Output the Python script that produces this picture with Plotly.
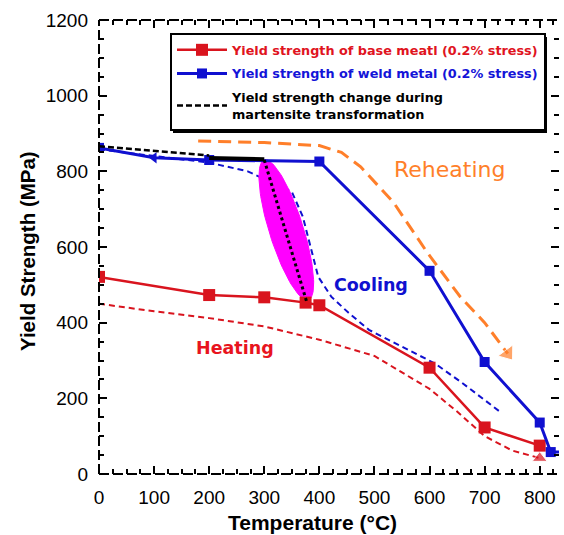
import numpy as np
import plotly.graph_objects as go

# Yield strength vs temperature
base_T = [0, 200, 300, 375, 400, 600, 700, 800]
base_YS = [521, 473, 467, 453, 446, 281, 123, 75]

weld_T = [0, 100, 200, 400, 600, 700, 800, 820, 850]
weld_YS = [862, 836, 830, 826, 537, 296, 136, 58, 58]
weld_sym = ["square", "triangle-left", "square", "square", "square",
            "square", "square", "square", "square"]

mart_T = [0, 200]
mart_YS = [866, 842]
mart_hold_T = [200, 300]
mart_hold_YS = [835, 832]
mart_drop_T = [300, 377]
mart_drop_YS = [830, 455]

heat_T = [0, 100, 200, 300, 400, 500, 600, 650, 700, 750, 800]
heat_YS = [450, 430, 412, 390, 355, 312, 225, 165, 100, 62, 42]

cool_T = [0, 200, 270, 350, 370, 385, 398, 422, 453, 490, 550, 610, 660, 731]
cool_YS = [858, 823, 800, 746, 680, 593, 521, 468, 426, 381, 336, 292, 240, 161]

reheat_T = [180, 300, 400, 440, 475, 535, 596, 656, 700, 742]
reheat_YS = [880, 876, 868, 850, 812, 717, 585, 468, 400, 318]

# transformation zone: ellipse along the martensite drop
zone_top = (300, 830)
zone_bottom = (380, 460)
zone_half_width_px = 17

X_RANGE = [0, 835]
Y_RANGE = [0, 1200]
W, H = 564, 535
M = dict(l=99, r=5, t=20, b=61)
plot_w = W - M["l"] - M["r"]
plot_h = H - M["t"] - M["b"]
sx = plot_w / (X_RANGE[1] - X_RANGE[0])
sy = plot_h / (Y_RANGE[1] - Y_RANGE[0])

RED = "#D9141E"
BLUE = "#1010D0"
ORANGE = "#FF7F2A"
MAGENTA = "#FF00FF"
WIDE = "DejaVu Sans"
SANS = "Liberation Sans"


def px_x(p):
    """Paper fraction for a pixel column inside the page."""
    return (p - M["l"]) / plot_w


def px_y(p):
    """Paper fraction for a pixel row inside the page."""
    return 1 - (p - M["t"]) / plot_h


# ellipse outline computed in pixel space, mapped back to data units
ax_px = np.array([zone_top[0] * sx, zone_top[1] * sy])
bx_px = np.array([zone_bottom[0] * sx, zone_bottom[1] * sy])
c = (ax_px + bx_px) / 2
u = (ax_px - bx_px) / 2
a = np.linalg.norm(u)
u = u / a
v = np.array([-u[1], u[0]])
t = np.linspace(0, 2 * np.pi, 120)
pts = c[:, None] + np.outer(u, a * np.cos(t)) + np.outer(v, zone_half_width_px * np.sin(t))
ell_x = pts[0] / sx
ell_y = pts[1] / sy

fig = go.Figure()

# dashed guide curves
fig.add_trace(go.Scatter(x=heat_T, y=heat_YS, mode="lines+markers",
                         line=dict(color=RED, width=2, dash="6px,4px"),
                         marker=dict(symbol="triangle-up", color=RED,
                                     size=[0] * (len(heat_T) - 1) + [13]),
                         showlegend=False, hoverinfo="skip"))
fig.add_trace(go.Scatter(x=cool_T, y=cool_YS, mode="lines",
                         line=dict(color=BLUE, width=2, dash="6px,4px"),
                         showlegend=False, hoverinfo="skip"))
fig.add_trace(go.Scatter(x=reheat_T, y=reheat_YS, mode="lines+markers",
                         line=dict(color=ORANGE, width=3, dash="13px,7px"),
                         marker=dict(symbol="triangle-up", angleref="previous",
                                     color=ORANGE,
                                     size=[0] * (len(reheat_T) - 1) + [16]),
                         showlegend=False, hoverinfo="skip"))

fig.add_trace(go.Scatter(x=ell_x, y=ell_y, mode="lines", fill="toself",
                         fillcolor=MAGENTA, line=dict(color=MAGENTA, width=1),
                         showlegend=False, hoverinfo="skip"))

# main series
fig.add_trace(go.Scatter(x=base_T, y=base_YS, mode="lines+markers",
                         legendgroup="base",
                         name="<b><span style='color:#E0141E'>Yield strength of base meatl (0.2% stress)</span></b>",
                         line=dict(color=RED, width=2.5),
                         marker=dict(symbol="square", size=12, color=RED)))
fig.add_trace(go.Scatter(x=weld_T, y=weld_YS, mode="lines+markers",
                         legendgroup="weld",
                         name="<b><span style='color:#1414D8'>Yield strength of weld metal (0.2% stress)</span></b>",
                         line=dict(color=BLUE, width=3),
                         marker=dict(symbol=weld_sym, size=10, color=BLUE)))
fig.add_trace(go.Scatter(x=mart_T, y=mart_YS, mode="lines",
                         legendgroup="mart",
                         name="<b>Yield strength change during<br>martensite transformation</b>",
                         line=dict(color="black", width=2.5, dash="6px,3px")))
fig.add_trace(go.Scatter(x=mart_hold_T, y=mart_hold_YS, mode="lines",
                         line=dict(color="black", width=4),
                         showlegend=False, hoverinfo="skip"))
fig.add_trace(go.Scatter(x=mart_drop_T, y=mart_drop_YS, mode="lines",
                         line=dict(color="black", width=3, dash="dot"),
                         showlegend=False, hoverinfo="skip"))

# frame drawn as dashed lines, right side carries ticks only
frame = dict(color="black", width=2, dash="10px,4px")
shapes = [
    dict(type="line", xref="paper", yref="paper", x0=0, x1=1, y0=1, y1=1, line=frame),
    dict(type="line", xref="paper", yref="paper", x0=0, x1=0, y0=0, y1=1, line=frame),
    dict(type="line", xref="paper", yref="paper", x0=0, x1=1, y0=0, y1=0, line=frame),
    # legend shadow
    dict(type="rect", xref="paper", yref="paper",
         x0=px_x(173), x1=px_x(547), y0=px_y(133), y1=px_y(37),
         fillcolor="black", line=dict(width=0), layer="above"),
]

annotations = [
    dict(x=637, y=804, text="Reheating", showarrow=False,
         font=dict(size=22, color=ORANGE, family=WIDE)),
    dict(x=494, y=500, text="<b>Cooling</b>", showarrow=False,
         font=dict(size=17.5, color=BLUE, family=WIDE)),
    dict(x=247, y=333, text="<b>Heating</b>", showarrow=False,
         font=dict(size=17.5, color="#E8141E", family=WIDE)),
    # axis titles
    dict(xref="paper", yref="paper", x=px_x(312), y=px_y(522),
         xanchor="center", yanchor="middle",
         text="<b>Temperature (°C)</b>", showarrow=False,
         font=dict(size=21, family=SANS, color="black")),
    dict(xref="paper", yref="paper", x=px_x(28), y=px_y(251),
         xanchor="center", yanchor="middle",
         text="<b>Yield Strength (MPa)</b>", showarrow=False, textangle=-90,
         font=dict(size=20.5, family=SANS, color="black")),
]

tickfont = dict(size=19, color="black", family=SANS)
fig.update_layout(
    width=W, height=H, margin=M,
    paper_bgcolor="white", plot_bgcolor="white",
    font=dict(family=SANS, color="black"),
    shapes=shapes, annotations=annotations,
    legend=dict(x=px_x(170), y=px_y(33),
                xanchor="left", yanchor="top",
                bgcolor="white", bordercolor="black", borderwidth=2,
                font=dict(size=12.8, family=WIDE),
                itemwidth=50, tracegroupgap=4),
    xaxis=dict(range=X_RANGE, dtick=100, tick0=0, showgrid=False, zeroline=False,
               showline=False, ticks="inside", ticklen=8, tickwidth=2,
               tickcolor="black", mirror="ticks", ticklabelstandoff=10,
               minor=dict(dtick=25, ticks="inside", ticklen=5, tickwidth=2,
                          tickcolor="black"),
               tickfont=tickfont),
    yaxis=dict(range=Y_RANGE, dtick=200, tick0=0, showgrid=False, zeroline=False,
               showline=False, ticks="inside", ticklen=8, tickwidth=2,
               tickcolor="black", mirror="ticks", ticklabelstandoff=10,
               minor=dict(dtick=50, ticks="inside", ticklen=5, tickwidth=2,
                          tickcolor="black"),
               tickfont=tickfont),
)

fig.write_html("out.html")
